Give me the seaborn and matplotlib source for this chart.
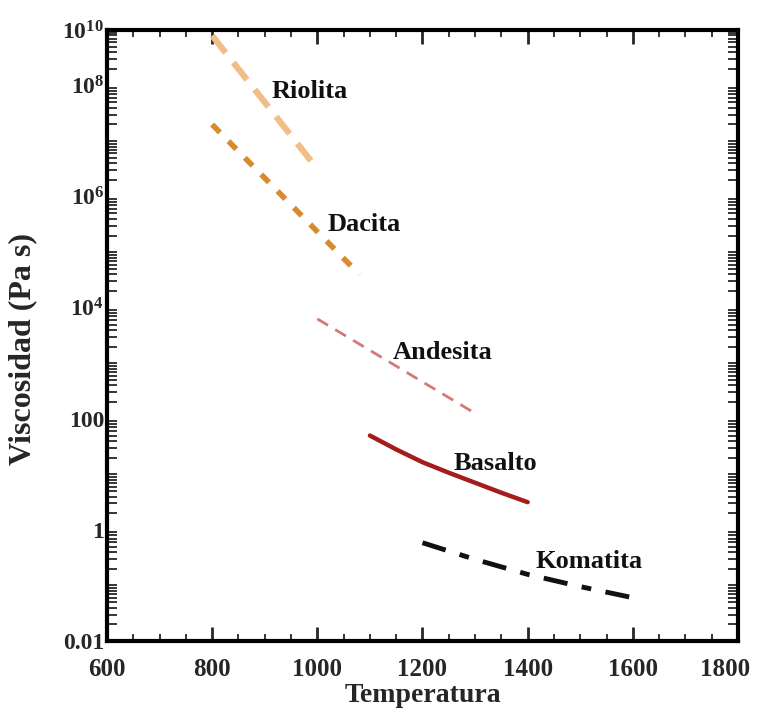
import numpy as np
import pandas as pd
import matplotlib
matplotlib.use("Agg")
import matplotlib.pyplot as plt
import matplotlib.ticker as mticker
import matplotlib.transforms as mtransforms
import seaborn as sns

# viscosity curves (temperature, Pa s)
riolita_t = [800, 900, 1000]
riolita_v = [10**8.9, 10**7.7, 10**6.5]
dacita_t = [800, 940, 1080]
dacita_v = [10**7.3, 10**5.95, 10**4.6]
andesita_t = [1000, 1150, 1300]
andesita_v = [10**3.8, 10**2.95, 10**2.1]
basalto_t = [1100, 1150, 1200, 1250, 1300, 1350, 1400]
basalto_v = [10**1.7, 10**1.45, 10**1.22, 10**1.03, 10**0.85, 10**0.67, 10**0.5]
komatita_t = [1200, 1300, 1400, 1500, 1600]
komatita_v = [10**-0.23, 10**-0.53, 10**-0.8, 10**-1.02, 10**-1.22]

x_ticks = [600, 800, 1000, 1200, 1400, 1600, 1800]
y_ticks = [1e-2, 1, 1e2, 1e4, 1e6, 1e8, 1e9]
y_labels = ["0.01", "1", "100", r"$\mathbf{10^4}$", r"$\mathbf{10^6}$",
            r"$\mathbf{10^8}$", r"$\mathbf{10^{10}}$"]

# name, temps, values, colour, width, dashes, label position
series = [
    ("Riolita", riolita_t, riolita_v, "#F0BE86", 4.5, (3.5, 2.0), (985, 10**7.9)),
    ("Dacita", dacita_t, dacita_v, "#D98A2E", 4.0, (2.0, 2.2), (1089, 10**5.5)),
    ("Andesita", andesita_t, andesita_v, "#D6787A", 2.0, (4.5, 3.0), (1239, 10**3.2)),
    ("Basalto", basalto_t, basalto_v, "#A51C1C", 3.2, None, (1338, 10**1.2)),
    ("Komatita", komatita_t, komatita_v, "#111111", 3.5, (5, 3, 2, 3), (1516, 10**-0.57)),
]

sns.set_style("ticks")
plt.rcParams["font.family"] = ["Liberation Serif", "DejaVu Serif"]
plt.rcParams["font.weight"] = "bold"
plt.rcParams["mathtext.fontset"] = "custom"
plt.rcParams["mathtext.rm"] = "Liberation Serif:bold"
plt.rcParams["mathtext.bf"] = "Liberation Serif:bold"

fig = plt.figure(figsize=(7.62, 7.16), dpi=100)
ax = fig.add_axes([0.1404, 0.1047, 0.8281, 0.8533])

for name, t, v, color, lw, dash, pos in series:
    df = pd.DataFrame({"T": t, "V": v})
    sns.lineplot(data=df, x="T", y="V", ax=ax, color=color, linewidth=lw)
    if dash is not None:
        ax.lines[-1].set_dashes(dash)
    ax.lines[-1].set_solid_capstyle("round")
    ax.text(pos[0], pos[1], name, fontsize=19, fontweight="bold",
            ha="center", va="center", color="#111111")

ax.set_yscale("log")
ax.set_xlim(600, 1800)
ax.set_ylim(1e-2, 1e9)

ax.set_xticks(x_ticks)
ax.set_xticklabels([str(x) for x in x_ticks])
ax.xaxis.set_minor_locator(mticker.MultipleLocator(50))
ax.set_yticks(y_ticks)
ax.set_yticklabels(y_labels)
ax.yaxis.set_minor_locator(mticker.LogLocator(base=10, subs=np.arange(1, 10), numticks=30))
ax.yaxis.set_minor_formatter(mticker.NullFormatter())

ax.tick_params(axis="x", which="major", direction="in", length=10, width=2,
               top=True, bottom=True, labelsize=18, pad=12)
ax.tick_params(axis="x", which="minor", direction="in", length=5, width=1.3,
               top=True, bottom=True)
ax.tick_params(axis="y", which="major", direction="in", length=0, width=1.5,
               left=True, right=True, labelsize=17, pad=2)
ax.tick_params(axis="y", which="minor", direction="in", length=7, width=1.3,
               left=True, right=True)

# last x label sits a bit to the left so it stays inside the figure
last = ax.get_xticklabels()[-1]
last.set_transform(last.get_transform() +
                   mtransforms.ScaledTranslation(-9 / 72, 0, fig.dpi_scale_trans))

for spine in ax.spines.values():
    spine.set_linewidth(3)
    spine.set_color("black")

ax.set_xlabel("Temperatura", fontsize=20, fontweight="bold", labelpad=2)
ax.set_ylabel("Viscosidad (Pa s)", fontsize=23, fontweight="bold")
ax.yaxis.set_label_coords(-0.11, 0.478)

fig.savefig("out.png", dpi=100)
